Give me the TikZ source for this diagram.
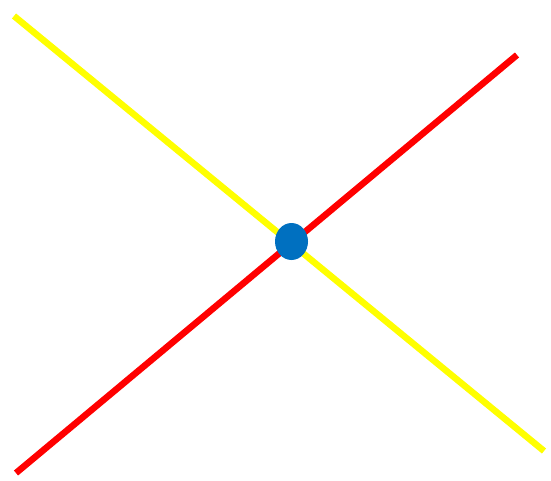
\documentclass[tikz,border=0pt]{standalone}
\usetikzlibrary{shapes.geometric}
\definecolor{ylw}{RGB}{255,255,0}
\definecolor{rd}{RGB}{255,0,0}
\definecolor{blu}{RGB}{0,112,192}
\tikzset{ln/.style={line width=6.5pt,line cap=butt}}
\begin{document}
\begin{tikzpicture}[x=1pt,y=-1pt]
\useasboundingbox[fill=white] (0,0) rectangle (551,481);
\coordinate (ya) at (14,16);
\coordinate (yb) at (544,451);
\coordinate (ra) at (16,473);
\coordinate (rb) at (517,55);
\draw[ln,rd] (ra) -- (rb);
\draw[ln,ylw] (ya) -- (yb);
\node[ellipse,fill=blu,minimum width=33pt,minimum height=37pt,inner sep=0pt] (c) at (291.5,241.5) {};
\end{tikzpicture}
\end{document}
